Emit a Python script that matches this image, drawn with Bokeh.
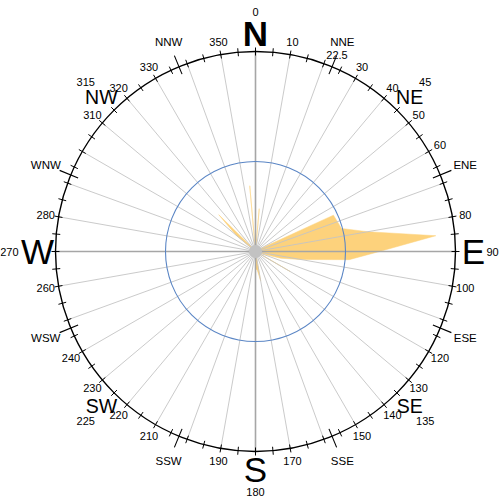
import numpy as np
from bokeh.plotting import figure
from bokeh.models import Range1d
from bokeh.embed import file_html
from bokeh.resources import INLINE
from bokeh.core.properties import value

# ---------------- data ----------------
directions = list(range(0, 360, 5))
frequency = [
    0, 21.5, 0, 0, 0, 0, 0, 0, 0, 0,          # 0..45
    0, 1, 3, 43, 43.6, 44.5, 57, 90.5, 62, 47,  # 50..95
    23, 13, 3, 2, 20, 0, 0, 0, 0, 0,          # 100..145
    0, 0, 0, 0, 15, 9, 9, 0, 0, 0,            # 150..195
    0, 0, 0, 0, 0, 0, 0, 0, 0, 0,             # 200..245
    0, 0, 0, 0, 0, 0, 0, 0, 0, 0,             # 250..295
    0, 0, 12.5, 26, 3, 0, 0, 0, 0, 0,         # 300..345
    0, 33,                                    # 350..355
]
radial_max = 100
ring_value = 45

degree_labels = [0, 10, 22.5, 30, 40, 45, 50, 60, 80, 90, 100, 120, 130, 135, 140,
                 150, 170, 180, 190, 210, 220, 225, 230, 240, 260, 270, 280, 310,
                 315, 320, 330, 350]
degree_label_text = ["0", "10", "22.5", "30", "40", "45", "50", "60", "80", "90", "100",
                     "120", "130", "135", "140", "150", "170", "180", "190", "210", "220",
                     "225", "230", "240", "260", "270", "280", "310", "315", "320", "330", "350"]
cardinal_names = ["N", "E", "S", "W"]
cardinal_deg = [0, 90, 180, 270]
inter_names = ["NE", "SE", "SW", "NW"]
inter_deg = [45, 135, 225, 315]
minor_names = ["NNE", "ENE", "ESE", "SSE", "SSW", "WSW", "WNW", "NNW"]
minor_deg = [22.5, 67.5, 112.5, 157.5, 202.5, 247.5, 292.5, 337.5]

# ---------------- layout ----------------
R = 200.0  # outer circle radius in plot units
FONT = value("Liberation Sans")


def polar(deg, r):
    t = np.radians(np.asarray(deg, dtype=float))
    r = np.asarray(r, dtype=float)
    return r * np.sin(t), r * np.cos(t)


p = figure(width=500, height=500, x_range=Range1d(-255, 245), y_range=Range1d(-249, 251),
           output_backend="svg", toolbar_location=None, min_border=0,
           x_axis_type=None, y_axis_type=None, outline_line_color=None)
p.grid.visible = False

# petals
rv = np.array(frequency) / radial_max * R
px, py = polar(directions, rv)
p.patch(list(px), list(py), fill_color="#fdd27c", line_color="#fdd27c", line_width=0.5)

# radial grid lines every 10 degrees
grid_deg = [d for d in range(0, 360, 10) if d % 90 != 0]
gx, gy = polar(grid_deg, [R] * len(grid_deg))
p.segment(x0=0, y0=0, x1=list(gx), y1=list(gy), line_color="#c4c4c4", line_width=0.9)
cx, cy = polar(cardinal_deg, [R] * 4)
p.segment(x0=0, y0=0, x1=list(cx), y1=list(cy), line_color="#a6a6a6", line_width=1.6)

# blue ring
p.circle(x=[0], y=[0], radius=ring_value / radial_max * R, fill_color=None,
         line_color="#5b86c5", line_width=1.1)
# outer circle
p.circle(x=[0], y=[0], radius=R, fill_color=None, line_color="black", line_width=1.4)

# ticks every 5 degrees
tick_deg = list(range(0, 360, 5))
t0x, t0y = polar(tick_deg, [R - 4] * len(tick_deg))
t1x, t1y = polar(tick_deg, [R + 4] * len(tick_deg))
p.segment(x0=list(t0x), y0=list(t0y), x1=list(t1x), y1=list(t1y), line_color="black", line_width=1)
# long ticks at 16-point directions
l0x, l0y = polar(minor_deg, [R - 8] * len(minor_deg))
l1x, l1y = polar(minor_deg, [R + 12] * len(minor_deg))
p.segment(x0=list(l0x), y0=list(l0y), x1=list(l1x), y1=list(l1y), line_color="black", line_width=1.1)

# center disc
p.circle(x=[0], y=[0], radius=6.5, fill_color="#c2c2c2", line_color=None)

# degree labels: regular ones on an inner ring, compass-point ones further out
outer_set = {0, 45, 90, 135, 180, 225, 270, 315}
groups = {"center": [], "left": [], "right": []}
for d, t in zip(degree_labels, degree_label_text):
    if d == 90:
        groups["left"].append((d, 231, t))
    elif d == 270:
        groups["right"].append((d, 237, t))
    elif d in outer_set:
        groups["center"].append((d, 240, t))
    else:
        groups["center"].append((d, 213, t))
for align, items in groups.items():
    if not items:
        continue
    ds, rs, ts = zip(*items)
    lx, ly = polar(ds, rs)
    p.text(x=list(lx), y=list(ly), text=list(ts), text_align=align,
           text_baseline="middle", text_font=FONT, text_font_size="11px", text_color="black")

# cardinal letters
kx, ky = polar(cardinal_deg, [218] * 4)
p.text(x=list(kx[:1]), y=list(ky[:1]), text=cardinal_names[:1], text_align="center",
       text_baseline="middle", text_font=FONT, text_font_size="35px", text_font_style="bold")
p.text(x=list(kx[1:]), y=list(ky[1:]), text=cardinal_names[1:], text_align="center",
       text_baseline="middle", text_font=FONT, text_font_size="35px")

# intercardinal names
ix, iy = polar(inter_deg, [218] * 4)
p.text(x=list(ix), y=list(iy), text=inter_names, text_align="center",
       text_baseline="middle", text_font=FONT, text_font_size="19.5px")

# 16-point names
mx, my = polar(minor_deg, [227] * len(minor_deg))
p.text(x=list(mx), y=list(my), text=minor_names, text_align="center",
       text_baseline="middle", text_font=FONT, text_font_size="11.5px")

open("out.html", "w").write(file_html(p, INLINE))
